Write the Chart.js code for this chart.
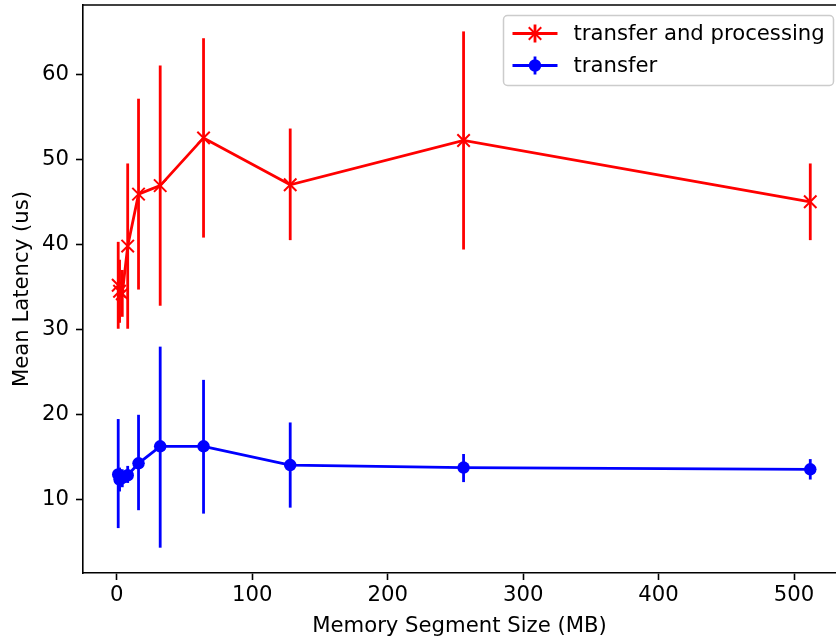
<!DOCTYPE html>
<html>
<head>
<meta charset="utf-8">
<script src="https://cdn.jsdelivr.net/npm/chart.js@4/dist/chart.umd.min.js"></script>
<style>
  html, body { margin: 0; padding: 0; background: #fff; }
  #wrap { width: 836px; height: 639px; }
</style>
</head>
<body>
<div id="wrap"><canvas id="c" width="836" height="639"></canvas></div>
<script>
// ---- data ----
const sizes = [1, 2, 4, 8, 16, 32, 64, 128, 256, 512];

const procMean = [35.2, 34.5, 34.2, 39.8, 45.9, 46.9, 52.5, 47.0, 52.2, 45.0];
const procLow  = [30.1, 30.8, 31.5, 30.1, 34.7, 32.8, 40.8, 40.5, 39.4, 40.5];
const procHigh = [40.3, 38.2, 37.0, 49.5, 57.1, 61.0, 64.2, 53.6, 65.0, 49.5];

const xferMean = [13.0, 12.4, 12.6, 12.9, 14.3, 16.3, 16.3, 14.1, 13.8, 13.6];
const xferLow  = [6.7, 11.0, 11.5, 12.0, 8.8, 4.4, 8.4, 9.1, 12.1, 12.4];
const xferHigh = [19.5, 13.8, 13.6, 14.0, 20.0, 28.0, 24.1, 19.1, 15.4, 14.8];

const xTicks = [0, 100, 200, 300, 400, 500];
const yTicks = [10, 20, 30, 40, 50, 60];

const seriesLabels = ['transfer and processing', 'transfer'];
const xTitle = 'Memory Segment Size (MB)';
const yTitle = 'Mean Latency (us)';

// ---- chart ----
const FONT = 'DejaVu Sans';
const FS = 21.2;
Chart.defaults.font.family = FONT;
Chart.defaults.font.size = FS;
Chart.defaults.color = '#000';

const toPts = (xs, ys) => xs.map((x, i) => ({ x: x, y: ys[i] }));

const errorBars = {
  id: 'errorBars',
  beforeDatasetsDraw(chart) {
    const ctx = chart.ctx;
    const xs = chart.scales.x, ys = chart.scales.y;
    const ca = chart.chartArea;
    ctx.save();
    ctx.beginPath();
    ctx.rect(ca.left, ca.top, ca.right - ca.left, ca.bottom - ca.top);
    ctx.clip();
    chart.data.datasets.forEach((ds) => {
      ctx.strokeStyle = ds.borderColor;
      ctx.lineWidth = 2.8;
      ctx.lineCap = 'butt';
      ds.errLow.forEach((lo, i) => {
        const px = xs.getPixelForValue(ds.data[i].x);
        ctx.beginPath();
        ctx.moveTo(px, ys.getPixelForValue(lo));
        ctx.lineTo(px, ys.getPixelForValue(ds.errHigh[i]));
        ctx.stroke();
      });
    });
    ctx.restore();
  }
};

const mplLegend = {
  id: 'mplLegend',
  afterDraw(chart) {
    const ctx = chart.ctx;
    const bw = 330, bh = 70;
    const bx = 503.5, by = 15.5;
    ctx.save();
    ctx.beginPath();
    ctx.roundRect(bx, by, bw, bh, 4);
    ctx.fillStyle = 'rgba(255,255,255,0.8)';
    ctx.fill();
    ctx.strokeStyle = '#cccccc';
    ctx.lineWidth = 1.5;
    ctx.stroke();
    const rows = [by + 18, by + 50];
    chart.data.datasets.forEach((ds, k) => {
      const y = rows[k];
      const x0 = bx + 9, x1 = bx + 54, xm = (x0 + x1) / 2;
      ctx.strokeStyle = ds.borderColor;
      ctx.lineWidth = 2.8;
      ctx.beginPath(); ctx.moveTo(x0, y); ctx.lineTo(x1, y); ctx.stroke();
      ctx.beginPath(); ctx.moveTo(xm, y - 9); ctx.lineTo(xm, y + 9); ctx.stroke();
      if (ds.pointStyle === 'circle') {
        ctx.fillStyle = ds.borderColor;
        ctx.beginPath(); ctx.arc(xm, y, 6.25, 0, Math.PI * 2); ctx.fill();
      } else {
        ctx.lineWidth = 2;
        const r = 6.25;
        ctx.beginPath();
        ctx.moveTo(xm - r, y - r); ctx.lineTo(xm + r, y + r);
        ctx.moveTo(xm - r, y + r); ctx.lineTo(xm + r, y - r);
        ctx.stroke();
      }
      ctx.fillStyle = '#000';
      ctx.font = FS + 'px "' + FONT + '"';
      ctx.textBaseline = 'middle';
      ctx.textAlign = 'left';
      ctx.fillText(ds.label, bx + 70, y + 1);
    });
    ctx.restore();
  }
};

new Chart(document.getElementById('c'), {
  type: 'scatter',
  data: {
    datasets: [
      {
        label: seriesLabels[0],
        data: toPts(sizes, procMean),
        errLow: procLow, errHigh: procHigh,
        showLine: true,
        borderColor: '#ff0000',
        backgroundColor: '#ff0000',
        borderWidth: 2.8,
        pointStyle: 'crossRot',
        pointRadius: 8.8,
        pointBorderWidth: 2,
        pointHoverRadius: 8.8,
        tension: 0
      },
      {
        label: seriesLabels[1],
        data: toPts(sizes, xferMean),
        errLow: xferLow, errHigh: xferHigh,
        showLine: true,
        borderColor: '#0000ff',
        backgroundColor: '#0000ff',
        borderWidth: 2.8,
        pointStyle: 'circle',
        pointRadius: 6.25,
        pointBorderWidth: 0,
        pointHoverRadius: 6.25,
        tension: 0
      }
    ]
  },
  options: {
    responsive: false,
    animation: false,
    devicePixelRatio: 1,
    layout: { autoPadding: false, padding: { top: 5, right: 0, left: 0, bottom: 0 } },
    plugins: {
      legend: { display: false },
      tooltip: { enabled: false },
      title: { display: false }
    },
    scales: {
      x: {
        type: 'linear',
        min: -25,
        max: 531,
        afterFit(s) { s.height = 66; s.paddingLeft = 0; s.paddingRight = 0; },
        afterBuildTicks(s) { s.ticks = xTicks.map(v => ({ value: v })); },
        grid: { drawOnChartArea: false, drawTicks: true, tickLength: 7, tickWidth: 1.6, tickColor: '#000' },
        border: { display: true, color: '#000', width: 1.6 },
        ticks: { padding: 3, color: '#000', maxRotation: 0, font: { size: FS } },
        title: { display: true, text: xTitle, color: '#000', font: { size: FS }, padding: { top: 0, bottom: 0 } }
      },
      y: {
        type: 'linear',
        min: 1.43,
        max: 68.1,
        afterFit(s) { s.width = 83; s.paddingTop = 0; s.paddingBottom = 0; },
        afterBuildTicks(s) { s.ticks = yTicks.map(v => ({ value: v })); },
        grid: { drawOnChartArea: false, drawTicks: true, tickLength: 7, tickWidth: 1.6, tickColor: '#000' },
        border: { display: true, color: '#000', width: 1.6 },
        ticks: { padding: 7, color: '#000', font: { size: FS } },
        title: { display: true, text: yTitle, color: '#000', font: { size: FS }, padding: { top: 10, bottom: 0 } }
      }
    }
  },
  plugins: [errorBars, mplLegend, {
    id: 'topBorder',
    afterDraw(chart) {
      const ctx = chart.ctx, ca = chart.chartArea;
      ctx.save();
      ctx.strokeStyle = '#000';
      ctx.lineWidth = 1.6;
      ctx.beginPath();
      ctx.moveTo(ca.left, ca.top);
      ctx.lineTo(ca.right, ca.top);
      ctx.stroke();
      ctx.restore();
    }
  }]
});
</script>
</body>
</html>
